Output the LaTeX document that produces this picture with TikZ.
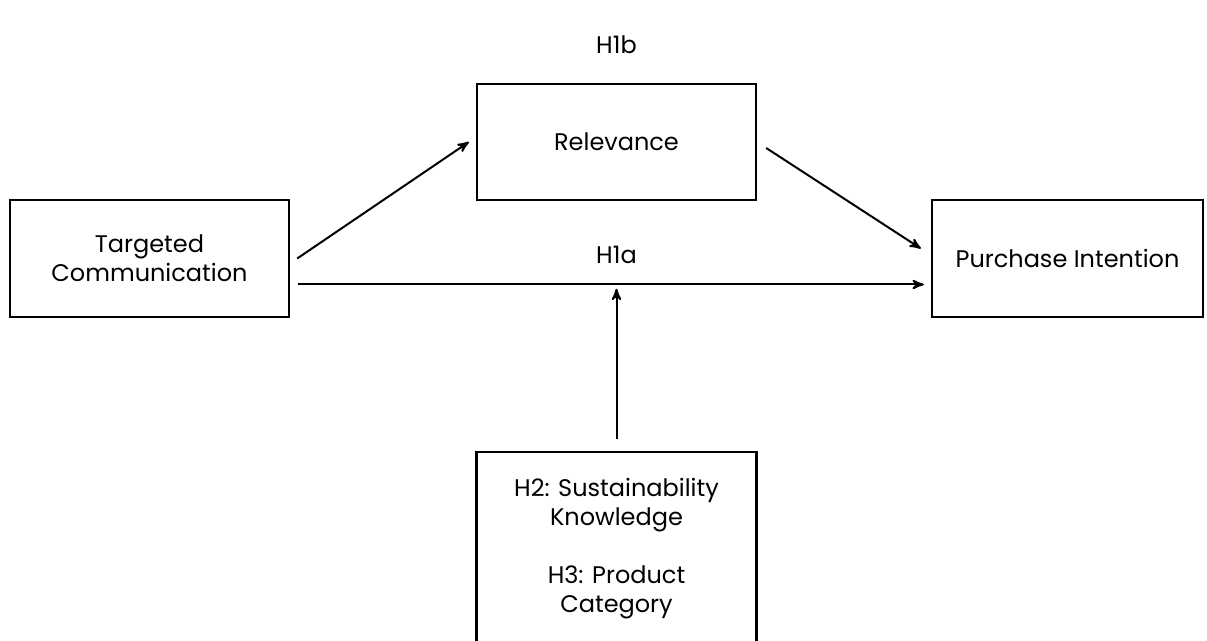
\documentclass[tikz,border=0pt]{standalone}
\usepackage{fontspec}
\setmainfont{Poppins}
\usepackage{tikz}
\usetikzlibrary{arrows,positioning}

\tikzset{
  box/.style={draw,line width=1.2pt,align=center,inner sep=0pt,
              font=\fontsize{12}{14.5}\selectfont},
  hyp/.style={font=\fontsize{12}{14.5}\selectfont}
}

\begin{document}
\begin{tikzpicture}[>=stealth',line width=1pt,on grid]
  \useasboundingbox (0,0) rectangle (603.5pt,-320.5pt);
  \clip (0,0) rectangle (603.5pt,-320.5pt);

  \node[box,minimum width=139.5pt,minimum height=58.5pt] (tc) at (74.75pt,-129.25pt) {Targeted\\Communication};
  \node[box,minimum width=139.5pt,minimum height=58pt] (rel) [above right=58.25pt and 233.5pt of tc] {Relevance};
  \node[box,minimum width=135.5pt,minimum height=58.5pt] (pi) [right=459pt of tc] {Purchase Intention};
  \node[box,minimum width=140pt,minimum height=97pt] (mod) [below=203.5pt of rel] {H2: Sustainability\\Knowledge\\[14.5pt]H3: Product\\Category};

  \node[hyp] (h1b) [above=48.5pt of rel] {H1b};
  \node[hyp] (h1a) [below=56.5pt of rel] {H1a};
  \coordinate (modtip) at ([yshift=81pt]mod.north);

  \path[->]
    ([xshift=3.5pt]tc.east) edge ([xshift=-3.5pt]rel.west)
    ([shift={(4.5pt,-3pt)}]rel.east) edge ([shift={(-5pt,5pt)}]pi.west)
    ([shift={(4pt,-13pt)}]tc.east) edge ([shift={(-3.5pt,-13pt)}]pi.west)
    ([yshift=6pt]mod.north) edge (modtip);
\end{tikzpicture}
\end{document}
